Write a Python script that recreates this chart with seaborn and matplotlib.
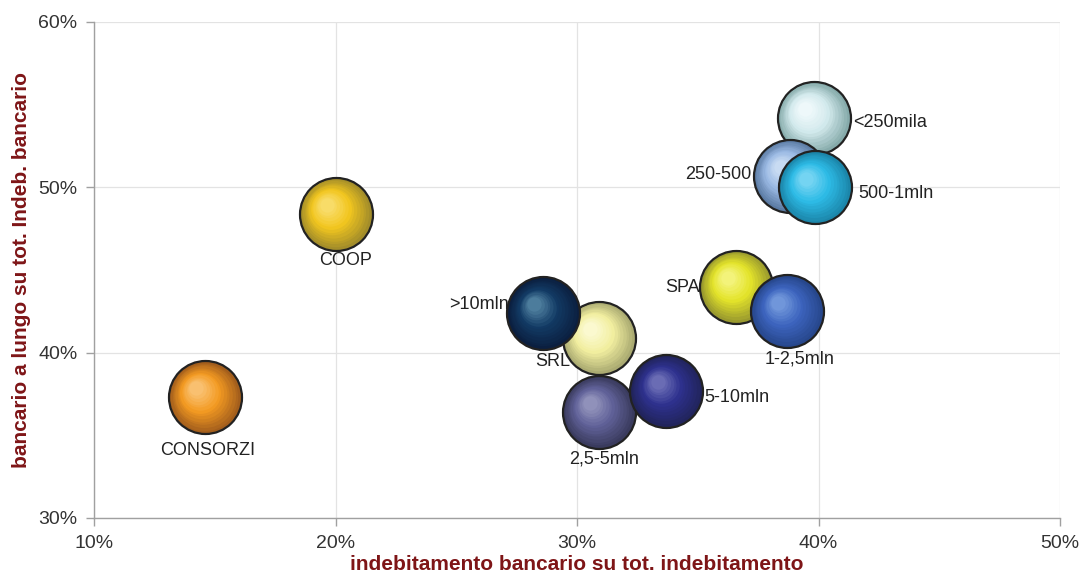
import matplotlib
matplotlib.use("Agg")
import matplotlib.pyplot as plt
import matplotlib.colors as mcolors
from matplotlib.transforms import ScaledTranslation
from matplotlib.ticker import FuncFormatter, MultipleLocator
import numpy as np
import pandas as pd
import seaborn as sns

# Segments of borrowers: share of bank debt on total debt (x) and
# share of long-term bank debt on total bank debt (y), in percent
segments = ["CONSORZI", "COOP", "SRL", ">10mln", "SPA", "1-2,5mln",
            "2,5-5mln", "5-10mln", "<250mila", "250-500", "500-1mln"]
debt_share = [14.6, 20.0, 30.9, 28.6, 36.6, 38.7, 30.9, 33.7, 39.8, 38.8, 39.85]
long_share = [37.3, 48.4, 40.9, 42.4, 44.0, 42.5, 36.4, 37.7, 54.2, 50.7, 50.0]

# dark rim, body, highlight for each sphere
rim_colors = ["#A35E1C", "#A38D2A", "#ABAB72", "#0B1F40", "#9A9A2E", "#27478C",
              "#3A3B5E", "#21245C", "#86ABAB", "#5B7BA4", "#1B86AA"]
body_colors = ["#F39A22", "#F2C61F", "#F2EFA0", "#123A64", "#E4E42A", "#3C64BE",
               "#606198", "#2E318E", "#D3EAED", "#9BBAE4", "#2DBBE6"]
light_colors = ["#F9C070", "#F8DC68", "#FBF9CF", "#4C7C9C", "#F3F37A", "#7096DA",
                "#9091BA", "#6A6CB4", "#EEF8FA", "#C8DBF2", "#74D4F2"]

# label placement: (horizontal alignment, dx px, dy px) relative to centre
label_pos = {
    "CONSORZI": ("center", 3, -53),
    "COOP": ("center", 10, -47),
    "SRL": ("center", -46, -24),
    ">10mln": ("right", -34, 8),
    "SPA": ("right", -37, -1),
    "1-2,5mln": ("center", 12, -48),
    "2,5-5mln": ("center", 5, -47),
    "5-10mln": ("left", 38, -7),
    "<250mila": ("left", 39, -5),
    "250-500": ("right", -38, 1),
    "500-1mln": ("left", 43, -6),
}

df = pd.DataFrame({"segment": segments, "x": debt_share, "y": long_share})

sns.set_theme(style="white")
plt.rcParams["font.family"] = ["Liberation Sans", "DejaVu Sans"]

fig = plt.figure(figsize=(10.81, 5.77), dpi=100)
ax = fig.add_axes([0.087, 0.1023, 0.8936, 0.8596])

ax.set_xlim(10, 50)
ax.set_ylim(30, 60)
ax.xaxis.set_major_locator(MultipleLocator(10))
ax.yaxis.set_major_locator(MultipleLocator(10))
pct = FuncFormatter(lambda v, _: f"{v:.0f}%")
ax.xaxis.set_major_formatter(pct)
ax.yaxis.set_major_formatter(pct)
ax.grid(True, color="#E3E3E3", linewidth=0.9)
ax.set_axisbelow(True)
for side in ("top", "right"):
    ax.spines[side].set_visible(False)
for side in ("left", "bottom"):
    ax.spines[side].set_color("#A0A0A0")
    ax.spines[side].set_linewidth(1.0)
ax.tick_params(axis="both", which="major", direction="out", length=6,
               color="#A0A0A0", width=1, labelsize=14, labelcolor="#333333",
               left=True, bottom=True)
ax.tick_params(axis="y", pad=6)
ax.tick_params(axis="x", pad=6)

diam_px = 73.0
base_size = (diam_px * 72.0 / fig.dpi) ** 2
n_layers = 14


def shade(rim, body, light, t):
    rim, body, light = (np.array(mcolors.to_rgb(c)) for c in (rim, body, light))
    if t < 0.55:
        u = t / 0.55
        return tuple(rim * (1 - u) + body * u)
    u = (t - 0.55) / 0.45
    return tuple(body * (1 - u) + light * u)


for i, row in df.iterrows():
    z = 3 + i
    sub = df.iloc[[i]]
    # outer sphere with its dark outline
    sns.scatterplot(data=sub, x="x", y="y", ax=ax, s=base_size,
                    color=rim_colors[i], edgecolor="#222222", linewidth=1.6,
                    zorder=z, legend=False)
    # concentric shading shifted toward the upper-left highlight
    for k in range(1, n_layers):
        t = k / (n_layers - 1)
        f = 1 - 0.8 * t
        dx = -(1 - f) * 11 / fig.dpi
        dy = (1 - f) * 11 / fig.dpi
        tr = ax.transData + ScaledTranslation(dx, dy, fig.dpi_scale_trans)
        ax.scatter(row["x"], row["y"], s=base_size * f * f * 0.97,
                   color=shade(rim_colors[i], body_colors[i], light_colors[i], t),
                   linewidths=0, transform=tr, zorder=z)
    ha, ox, oy = label_pos[row["segment"]]
    ax.annotate(row["segment"], (row["x"], row["y"]), xytext=(ox * 0.72, oy * 0.72),
                textcoords="offset points", ha=ha, va="center", fontsize=13,
                color="#222222", zorder=50)

ax.set_xlabel("indebitamento bancario su tot. indebitamento", fontsize=15,
              fontweight="bold", color="#7E1517")
ax.xaxis.set_label_coords(0.5, -0.0745)
ax.set_ylabel("bancario a lungo su tot. Indeb. bancario", fontsize=15,
              fontweight="bold", color="#7E1517", labelpad=5)

fig.savefig("out.png", dpi=100, facecolor="white")
